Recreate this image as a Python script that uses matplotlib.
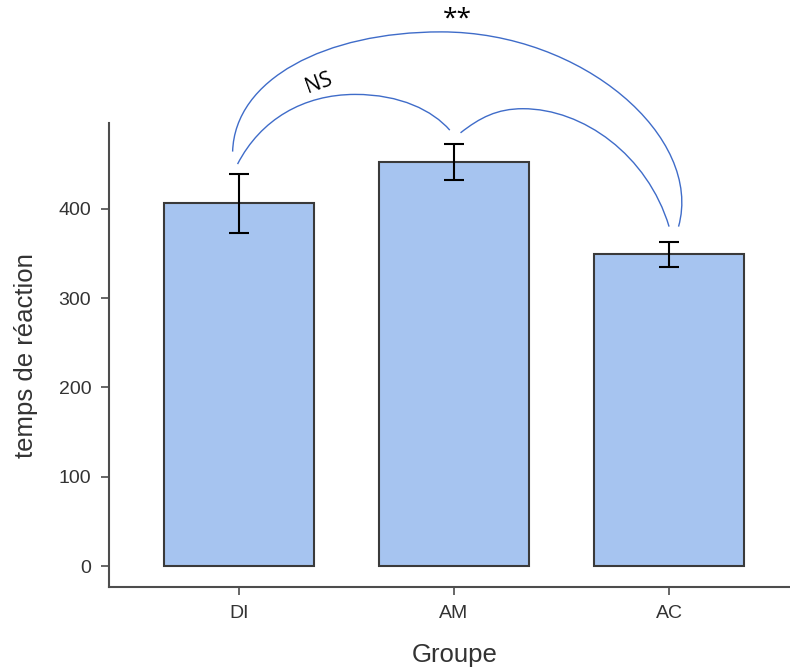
import matplotlib
matplotlib.use("Agg")
import matplotlib.pyplot as plt
from matplotlib.path import Path
from matplotlib.patches import PathPatch

groups = ["DI", "AM", "AC"]
means = [406, 452, 349]
errors = [33, 20, 14]
yticks = [0, 100, 200, 300, 400]

# significance annotations: bezier control points in data coordinates
arc_ns = [(-0.007, 450), (0.10, 500), (0.30, 528), (0.54, 528),
          (0.75, 528), (0.90, 510), (0.98, 488)]
arc_am_ac = [(1.03, 485), (1.12, 502), (1.20, 512), (1.32, 512),
             (1.60, 512), (1.90, 460), (2.00, 380)]
arc_di_ac = [(-0.03, 464), (-0.02, 545), (0.40, 598), (0.94, 598),
             (1.60, 598), (2.16, 480), (2.044, 380)]
label_ns = "NS"
label_sig = "**"

plt.rcParams['font.family'] = ['Liberation Sans', 'DejaVu Sans']

fig = plt.figure(figsize=(7.9, 6.68), dpi=100)
ax = fig.add_axes([109/790, 81/668, 681/790, 464/668])

x = list(range(len(groups)))
ax.bar(x, means, width=0.7, color="#a6c4f0", edgecolor="#3a3a3a", linewidth=1.5, zorder=2)
ax.errorbar(x, means, yerr=errors, fmt="none", ecolor="black", elinewidth=1.5,
            capsize=7.5, capthick=1.5, zorder=3)

ax.set_xlim(-0.605, -0.605 + 681/215)
ax.set_ylim(-23.5, 496)
ax.set_xticks(x)
ax.set_xticklabels(groups)
ax.set_yticks(yticks)
ax.tick_params(axis="both", labelsize=14, colors="#4d4d4d", length=5.8, width=1.2, pad=7)
for lab in ax.get_xticklabels() + ax.get_yticklabels():
    lab.set_color("#333333")
ax.set_xlabel("Groupe", fontsize=18.5, color="#333333")
ax.set_ylabel("temps de réaction", fontsize=18.5, color="#333333")
ax.xaxis.set_label_coords(0.507, -0.120)
ax.yaxis.set_label_coords(-0.104, 0.499)

for s in ["top", "right"]:
    ax.spines[s].set_visible(False)
for s in ["left", "bottom"]:
    ax.spines[s].set_color("#4d4d4d")
    ax.spines[s].set_linewidth(1.5)

codes = [Path.MOVETO] + [Path.CURVE4] * 6
for pts in (arc_ns, arc_am_ac, arc_di_ac):
    patch = PathPatch(Path(pts, codes), facecolor="none", edgecolor="#3f6cc9",
                      linewidth=1.0, clip_on=False, zorder=4)
    ax.add_patch(patch)

ax.text(0.37, 541, label_ns, fontsize=15, rotation=20, ha="center", va="center",
        family=["Open Sans", "DejaVu Sans"], clip_on=False)
ax.text(1.016, 612, label_sig, fontsize=19, ha="center", va="center",
        family=["Open Sans", "DejaVu Sans"], clip_on=False)

fig.savefig("out.png", dpi=100)
